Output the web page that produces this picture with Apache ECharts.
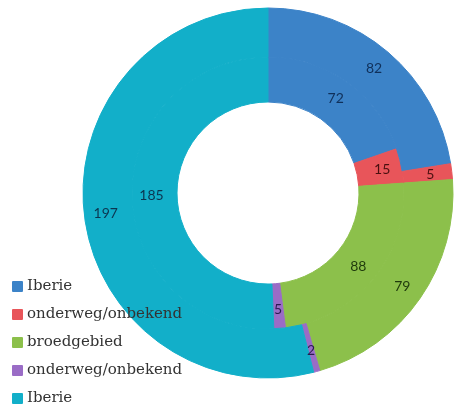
<!DOCTYPE html>
<html>
<head>
<meta charset="utf-8">
<script src="https://cdn.jsdelivr.net/npm/echarts@6/dist/echarts.min.js"></script>
<style>
  html, body { margin: 0; padding: 0; background: #fff; }
  #main { width: 455px; height: 405px; }
</style>
</head>
<body>
<div id="main"></div>
<script>
// categories (legend order) and values for both rings
var categories = ['Iberie', 'onderweg/onbekend', 'broedgebied', 'onderweg/onbekend', 'Iberie'];
var innerValues = [72, 15, 88, 5, 185];
var outerValues = [82, 5, 79, 2, 197];
var colors = ['#3c83c8', '#e8555a', '#8cc04b', '#9a6cc6', '#12afc9'];
var labelColors = ['#10305a', '#4a1010', '#1f3a0c', '#2a1a50', '#0c3550'];

// unieke sleutel per categorie, want er zijn dubbele namen
function key(i) { return categories[i] + '#' + i; }

function buildData(values) {
    return values.map(function (v, i) {
        return {
            name: key(i),
            value: v,
            // rand in dezelfde kleur, zodat er geen witte naden zijn
            itemStyle: { color: colors[i], borderColor: colors[i], borderWidth: 1 },
            label: { color: labelColors[i] }
        };
    });
}

var chart = echarts.init(document.getElementById('main'));

var labelStyle = {
    show: true,
    position: 'inside',
    formatter: '{c}',
    fontFamily: 'Lato',
    fontSize: 14
};

var option = {
    animation: false,
    legend: {
        orient: 'vertical',
        left: 7,
        top: 274,
        height: 300,
        itemWidth: 9,
        itemHeight: 9,
        itemGap: 13,
        icon: 'rect',
        data: categories.map(function (c, i) { return key(i); }),
        formatter: function (name) { return name.split('#')[0]; },
        textStyle: {
            fontFamily: 'DejaVu Serif',
            fontSize: 15,
            color: '#333'
        }
    },
    series: [
        {
            name: 'binnen',
            type: 'pie',
            center: [268, 193],
            radius: [91, 136],
            startAngle: 90,
            clockwise: true,
            avoidLabelOverlap: false,
            label: labelStyle,
            labelLine: { show: false },
            data: buildData(innerValues)
        },
        {
            name: 'buiten',
            type: 'pie',
            center: [268, 193],
            radius: [136, 185],
            startAngle: 90,
            clockwise: true,
            avoidLabelOverlap: false,
            label: labelStyle,
            labelLine: { show: false },
            data: buildData(outerValues)
        }
    ]
};

chart.setOption(option);
</script>
</body>
</html>
